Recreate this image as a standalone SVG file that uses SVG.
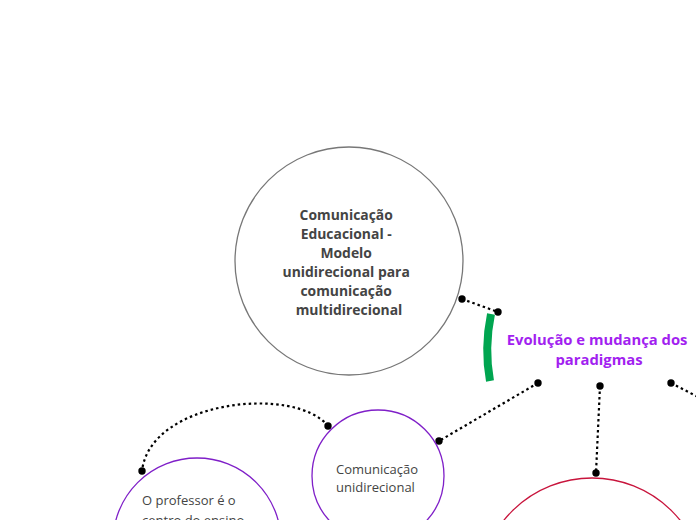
<svg xmlns="http://www.w3.org/2000/svg" width="696" height="520" viewBox="0 0 696 520">
<style>
.t{font-family:"Open Sans","Noto Sans","Liberation Sans",sans-serif;fill:#444;}
.b{font-weight:bold;font-size:13.9px;}
.n{font-size:13px;}
.c{stroke:#000;stroke-width:2.2;stroke-dasharray:2.5 3;fill:none;}
.d{fill:#000;}
</style>
<rect width="696" height="520" fill="#fff"/>
<g id="connectors">
<path class="c" d="M462 299 L498 312"/>
<path class="c" d="M538 383 L439 441"/>
<path class="c" d="M600 386 L596 473"/>
<path class="c" d="M671 383 L700 398"/>
<path class="c" d="M328 426 C295 385 150 400 142 471"/>
<circle class="d" cx="462" cy="299" r="3.7"/>
<circle class="d" cx="498" cy="312" r="3.7"/>
<circle class="d" cx="538" cy="383" r="3.7"/>
<circle class="d" cx="439" cy="441" r="3.7"/>
<circle class="d" cx="600" cy="386" r="3.7"/>
<circle class="d" cx="596" cy="473" r="3.7"/>
<circle class="d" cx="671" cy="383" r="3.7"/>
<circle class="d" cx="328" cy="426" r="3.7"/>
<circle class="d" cx="142" cy="471" r="3.7"/>
</g>
<g id="main">
<circle cx="349" cy="261" r="114" fill="#fff" stroke="#777" stroke-width="1.3"/>
<text class="t b" text-anchor="middle">
<tspan x="348" y="220">Comunicação</tspan>
<tspan x="348" y="239">Educacional -</tspan>
<tspan x="348" y="258">Modelo</tspan>
<tspan x="348" y="277">unidirecional para</tspan>
<tspan x="348" y="296">comunicação</tspan>
<tspan x="349" y="315">multidirecional</tspan>
</text>
</g>
<g id="evolucao">
<path d="M491 314 Q484 348 490 381" fill="none" stroke="#00a550" stroke-width="8"/>
<text style="font-family:'Open Sans','Noto Sans','Liberation Sans',sans-serif;font-weight:bold;font-size:14.8px;fill:#a21ff0" text-anchor="middle">
<tspan x="599" y="345">Evolução e mudança dos</tspan>
<tspan x="599" y="365">paradigmas</tspan>
</text>
</g>
<g id="unidirecional">
<circle cx="378" cy="476" r="66" fill="#fff" stroke="#7f1fc8" stroke-width="1.3"/>
<text class="t n">
<tspan x="336" y="474">Comunicação</tspan>
<tspan x="336" y="492">unidirecional</tspan>
</text>
</g>
<g id="professor">
<circle cx="197" cy="542" r="84" fill="#fff" stroke="#7f1fc8" stroke-width="1.3"/>
<text class="t n">
<tspan x="142" y="505">O professor é o</tspan>
<tspan x="142" y="525">centro do ensino-</tspan>
</text>
</g>
<g id="red">
<circle cx="592" cy="591" r="113" fill="#fff" stroke="#c8143c" stroke-width="1.3"/>
</g>
</svg>
